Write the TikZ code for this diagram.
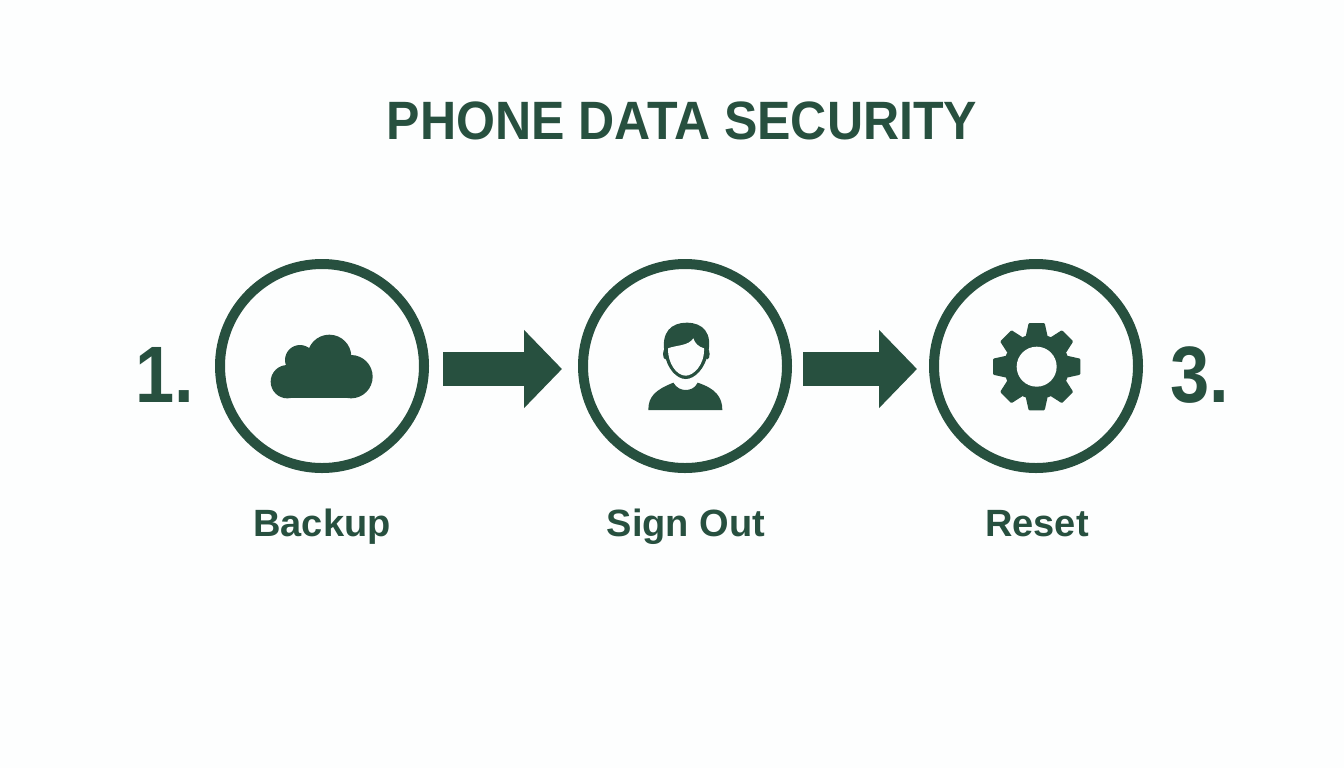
\documentclass[tikz,border=0pt]{standalone}
\usepackage{fontspec}
\setmainfont{Liberation Sans}
\usetikzlibrary{arrows.meta}
\definecolor{pinegreen}{HTML}{27503F}
\definecolor{paper}{HTML}{FDFEFE}

\begin{document}
\begin{tikzpicture}
    [x=0.5pt,y=-0.5pt,
    step circle/.style={circle,draw=pinegreen,line width=5pt,fill=paper,
    inner sep=0pt,minimum size=102pt},
    step label/.style={text=pinegreen,font=\bfseries\fontsize{19}{23}\selectfont,inner sep=0pt,anchor=base},
    step number/.style={text=pinegreen,font=\bfseries\fontsize{40}{48}\selectfont\addfontfeature{FakeStretch=0.88},inner sep=0pt,anchor=base},
    flow/.style={draw=pinegreen,line width=17pt,-{Triangle[length=19pt,width=38pt]}},
    icon/.style={fill=pinegreen},
    zoomed/.style={x=0.16667pt,y=-0.16667pt}]
    \fill[paper] (0,0) rectangle (1344,768);
    \node (title) [text=pinegreen,font=\bfseries\fontsize{27}{33}\selectfont\addfontfeature{FakeStretch=0.927},inner sep=0pt,anchor=base] at (682,139) {PHONE DATA SECURITY};
    \node (backup) [step circle] at (322,366) {};
    \node (sign out) [step circle] at (685,366) {};
    \node (reset) [step circle] at (1036,366) {};
    \node (number 1) [step number] at (165,402) {1.};
    \node (number 3) [step number] at (1200,402) {3.};
    \node (backup label) [step label] at (322,536) {Backup};
    \node (sign out label) [step label] at (686,536) {Sign Out};
    \node (reset label) [step label] at (1037,536) {Reset};
    \draw[flow,shorten <=7pt,shorten >=8pt] ([yshift=-1.5pt]backup.east) -- ([yshift=-1.5pt]sign out.west);
    \draw[flow,shorten <=5.5pt,shorten >=6pt] ([yshift=-1.5pt]sign out.east) -- ([yshift=-1.5pt]reset.west);
    \begin{scope}[shift={(250,310)},zoomed]
        \fill[icon] (112,215) circle (50);
        \fill[icon] (150,150) circle (45);
        \fill[icon] (238,140) circle (66);
        \fill[icon] (303,200) circle (65);
        \fill[icon] (112,150) rectangle (303,265);
    \end{scope}
    \begin{scope}[shift={(630,310)},zoomed]
        \fill[icon] (104,130) .. controls (92,65) and (125,38) .. (170,38)
            .. controls (220,38) and (248,70) .. (234,130)
            .. controls (225,175) and (195,207) .. (167,207)
            .. controls (140,207) and (110,175) .. (104,130) -- cycle;
        \fill[icon] (106,132) ellipse (7 and 16);
        \fill[icon] (232,132) ellipse (7 and 16);
        \fill[paper] (114,115) .. controls (140,105) and (175,108) .. (190,85)
            .. controls (195,100) and (205,110) .. (222,115)
            .. controls (224,165) and (190,197) .. (167,197)
            .. controls (140,197) and (113,160) .. (114,115) -- cycle;
        \fill[icon] (55,300) .. controls (55,260) and (75,240) .. (130,218)
            .. controls (140,235) and (155,240) .. (167,240)
            .. controls (180,240) and (195,235) .. (203,218)
            .. controls (255,235) and (277,260) .. (277,300) -- cycle;
    \end{scope}
    \begin{scope}[shift={(980,310)},zoomed]
        \fill[icon] (170,170) circle (98);
        \foreach \a in {0,45,...,315}
            \fill[icon,rounded corners=0.5pt,shift={(170,170)},rotate=\a]
                (-33,-90) -- (-24,-131) -- (24,-131) -- (33,-90) -- cycle;
        \fill[paper] (170,170) circle (60);
    \end{scope}
\end{tikzpicture}
\end{document}
